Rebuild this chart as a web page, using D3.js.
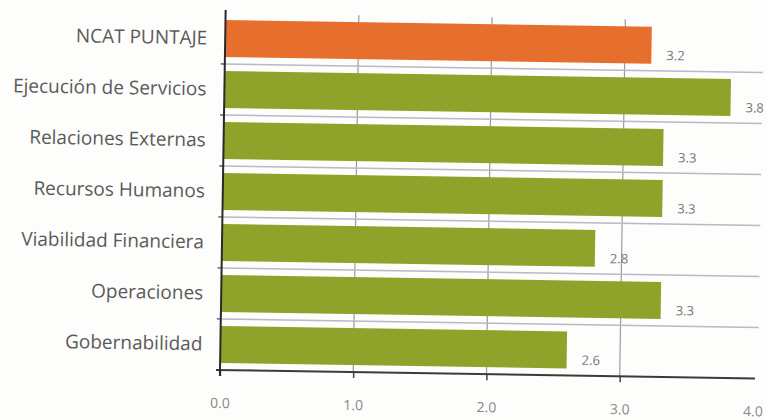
<!DOCTYPE html>
<html>
<head>
<meta charset="utf-8">
<script src="https://cdn.jsdelivr.net/npm/d3@7"></script>
<style>
  html, body { margin: 0; padding: 0; background: #fdfdfb; }
  svg { display: block; }
</style>
</head>
<body>
<svg id="chart" width="767" height="420"></svg>
<script>
// Scores per area (0–4 scale)
const categories = [
  "NCAT PUNTAJE",
  "Ejecución de Servicios",
  "Relaciones Externas",
  "Recursos Humanos",
  "Viabilidad Financiera",
  "Operaciones",
  "Gobernabilidad"
];
const scores = [3.2, 3.8, 3.3, 3.3, 2.8, 3.3, 2.6];
const xTicks = [0, 1, 2, 3, 4];

const svg = d3.select("#chart");
const plotLeft = 220, plotRight = 753, plotTop = 13, plotBottom = 370;

// whole plot sits slightly tilted
const g = svg.append("g").attr("transform", `rotate(0.9, ${plotLeft}, ${plotBottom})`);

const x = d3.scaleLinear().domain([0, 4]).range([plotLeft, plotRight]);
const y = d3.scaleBand().domain(categories).range([plotTop, plotBottom])
  .paddingInner(0.275).paddingOuter(0.1375);

const step = y.step();
const gap = step - y.bandwidth();
const boundaries = categories.slice(0, -1).map(c => y(c) + y.bandwidth() + gap / 2);

// vertical grid
g.append("g").selectAll("line").data(xTicks.filter(t => t > 0 && t < 4)).join("line")
  .attr("x1", d => x(d)).attr("x2", d => x(d))
  .attr("y1", plotTop).attr("y2", plotBottom)
  .attr("stroke", "#9a9aa2").attr("stroke-width", 1.2);

// horizontal separators between rows
g.append("g").selectAll("line").data(boundaries).join("line")
  .attr("x1", plotLeft).attr("x2", 758)
  .attr("y1", d => d).attr("y2", d => d)
  .attr("stroke", "#b8b8c6").attr("stroke-width", 1.6);

// bars
g.append("g").selectAll("rect").data(categories).join("rect")
  .attr("x", plotLeft)
  .attr("y", d => y(d))
  .attr("width", (d, i) => x(scores[i]) - plotLeft)
  .attr("height", y.bandwidth())
  .attr("fill", (d, i) => i === 0 ? "#e76f2d" : "#8fa32b");

// value labels
g.append("g").selectAll("text").data(categories).join("text")
  .attr("x", (d, i) => x(scores[i]) + 15)
  .attr("y", d => y(d) + y.bandwidth() / 2 + 10)
  .attr("dy", "0.35em")
  .attr("font-family", "Open Sans, sans-serif")
  .attr("font-size", 13)
  .attr("fill", "#777")
  .text((d, i) => d3.format(".1f")(scores[i]));

// x axis
const xAxis = g.append("g").attr("transform", `translate(0,${plotBottom})`)
  .call(d3.axisBottom(x).tickValues(xTicks).tickFormat(d3.format(".1f"))
    .tickSize(6).tickPadding(22));
xAxis.select(".domain").remove();
xAxis.selectAll(".tick line")
  .attr("stroke", "#444").attr("stroke-width", 1.5)
  .attr("display", d => d < 4 ? null : "none");
xAxis.selectAll("text").attr("font-family", "Open Sans, sans-serif")
  .attr("font-size", 14).attr("fill", "#888");
g.append("line").attr("x1", plotLeft - 4).attr("x2", 755)
  .attr("y1", plotBottom).attr("y2", plotBottom)
  .attr("stroke", "#3a3a3a").attr("stroke-width", 2);

// y axis
const yAxis = g.append("g").attr("transform", `translate(${plotLeft},0)`)
  .call(d3.axisLeft(y).tickSize(0).tickPadding(18));
yAxis.select(".domain").remove();
yAxis.selectAll("text").attr("font-family", "Open Sans, sans-serif")
  .attr("font-size", 19).attr("fill", "#5a5a5a");
g.append("g").selectAll("line").data(boundaries).join("line")
  .attr("x1", plotLeft - 4).attr("x2", plotLeft)
  .attr("y1", d => d).attr("y2", d => d)
  .attr("stroke", "#444").attr("stroke-width", 1.2);
g.append("line").attr("x1", plotLeft).attr("x2", plotLeft)
  .attr("y1", plotTop - 3).attr("y2", plotBottom + 6)
  .attr("stroke", "#2a2a2a").attr("stroke-width", 2);
</script>
</body>
</html>
